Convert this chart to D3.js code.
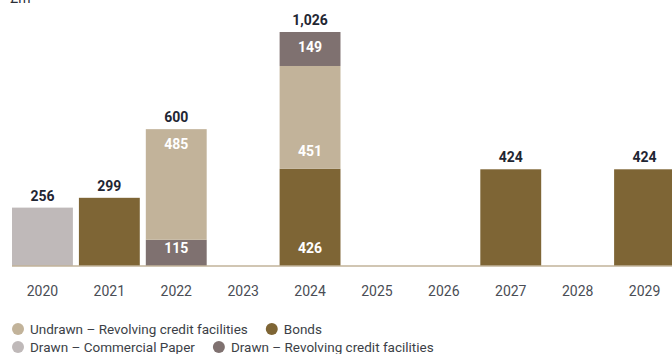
<!DOCTYPE html>
<html>
<head>
<meta charset="utf-8">
<script src="https://cdn.jsdelivr.net/npm/d3@7"></script>
<style>
  body { margin: 0; background: #fff; }
  svg { display: block; font-family: Roboto, "Noto Sans", sans-serif; }
</style>
</head>
<body>
<div id="chart"></div>
<script>
const years = ["2020","2021","2022","2023","2024","2025","2026","2027","2028","2029"]
const bonds = [0, 299, 0, 0, 426, 0, 0, 424, 0, 424]
const commercialPaper = [256, 0, 0, 0, 0, 0, 0, 0, 0, 0]
const drawnRcf = [0, 0, 115, 0, 149, 0, 0, 0, 0, 0]
const undrawnRcf = [0, 0, 485, 0, 451, 0, 0, 0, 0, 0]
const totals = [256, 299, 600, 0, 1026, 0, 0, 424, 0, 424]

const series = [
  {key: "undrawn", name: "Undrawn \u2013 Revolving credit facilities", values: undrawnRcf, color: "#c2b39a"},
  {key: "bonds", name: "Bonds", values: bonds, color: "#7e6535"},
  {key: "cp", name: "Drawn \u2013 Commercial Paper", values: commercialPaper, color: "#bfb9b9"},
  {key: "drawn", name: "Drawn \u2013 Revolving credit facilities", values: drawnRcf, color: "#7f7170"}
]
const byKey = {}
series.forEach(s => byKey[s.key] = s)

// stacking order bottom -> top (2024 has the drawn RCF sitting on top)
const defaultOrder = ["bonds", "cp", "drawn", "undrawn"]
const orderFor = year => year == "2024" ? ["bonds", "undrawn", "drawn"] : defaultOrder

const width = 672, height = 354
const margin = {top: 32, left: 9, right: -6, bottom: 88}

const svg = d3.select("#chart").append("svg")
  .attr("width", width)
  .attr("height", height)
  .attr("viewBox", `0,0,${width},${height}`)

const x = d3.scaleBand()
  .domain(years)
  .range([margin.left, width - margin.right])
  .paddingInner(0.09)
  .paddingOuter(0.045)

const y = d3.scaleLinear()
  .domain([0, 1026])
  .range([height - margin.bottom, margin.top])

// unit label, mostly cropped off at the top (as in the source)
svg.append("text")
  .attr("x", 10)
  .attr("y", 3)
  .attr("fill", "#2a2f38")
  .style("font-size", "14px")
  .text("£m")

// build segments
const segments = []
years.forEach((yr, i) => {
  let base = 0
  const order = orderFor(yr).filter(k => byKey[k].values[i] > 0)
  order.forEach((k, j) => {
    const v = byKey[k].values[i]
    segments.push({year: yr, key: k, y0: base, y1: base + v, value: v,
      pos: j == order.length - 1 && order.length > 1 ? "top" : "bottom", n: order.length})
    base += v
  })
})

svg.append("g")
  .selectAll("rect").data(segments).enter().append("rect")
    .attr("x", d => x(d.year))
    .attr("y", d => y(d.y1))
    .attr("width", x.bandwidth())
    .attr("height", d => y(d.y0) - y(d.y1))
    .attr("fill", d => byKey[d.key].color)

// baseline axis
svg.append("g")
  .attr("transform", `translate(0,${y(0)})`)
  .call(d3.axisBottom(x).tickSize(0).tickPadding(20))
  .call(g => g.select(".domain").attr("stroke", "#c2b39a").attr("stroke-width", 1.5)
    .attr("d", `M${x(years[0])},0H${width}`))
  .call(g => g.selectAll("text").attr("fill", "#4a4d55").style("font-size", "14px")
    .style("font-family", "Roboto, 'Noto Sans', sans-serif"))

// labels inside stacked segments
svg.append("g")
  .selectAll("text").data(segments.filter(d => d.n > 1)).enter().append("text")
    .attr("x", d => x(d.year) + x.bandwidth() / 2)
    .attr("y", d => d.pos == "top" ? y(d.y1) + 20 : y(d.y0) - 13)
    .attr("text-anchor", "middle")
    .attr("fill", "#fff")
    .style("font-size", "14px")
    .style("font-weight", "bold")
    .text(d => d.value)

// totals above bars
svg.append("g")
  .selectAll("text").data(years.map((yr, i) => ({year: yr, total: totals[i]})).filter(d => d.total > 0))
  .enter().append("text")
    .attr("x", d => x(d.year) + x.bandwidth() / 2)
    .attr("y", d => y(d.total) - 7)
    .attr("text-anchor", "middle")
    .attr("fill", "#1f2633")
    .style("font-size", "14px")
    .style("font-weight", "bold")
    .text(d => d3.format(",")(d.total))

// legend, two rows
const rows = [["undrawn", "bonds"], ["cp", "drawn"]]
const legend = svg.append("g")
rows.forEach((row, r) => {
  let lx = 18
  const ly = 330 + r * 18
  row.forEach(k => {
    const s = byKey[k]
    legend.append("circle").attr("cx", lx).attr("cy", ly - 1).attr("r", 6).attr("fill", s.color)
    const t = legend.append("text")
      .attr("x", lx + 12)
      .attr("y", ly + 4)
      .attr("fill", "#3c3f47")
      .style("font-size", "13.5px")
      .text(s.name)
    lx += 12 + t.node().getComputedTextLength() + 24
  })
})
</script>
</body>
</html>
